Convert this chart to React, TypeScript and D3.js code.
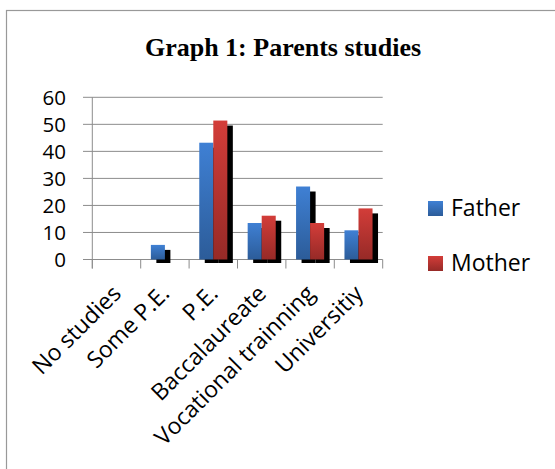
import React from "react";
import * as d3 from "d3";

const categories = ["No studies", "Some P.E.", "P.E.", "Baccalaureate", "Vocational trainning", "Universitiy"];
const seriesNames = ["Father", "Mother"];
const fatherValues = [0, 5.4, 43.2, 13.5, 27.0, 10.8];
const motherValues = [0, 0, 51.4, 16.2, 13.5, 18.9];
const yTicks = [0, 10, 20, 30, 40, 50, 60];
const title = "Graph 1: Parents studies";

const W = 555;
const H = 469;
const plot = { left: 92.3, right: 382.7, top: 97.3, bottom: 259.5 };
const font = "'Open Sans', 'Noto Sans', sans-serif";

export default function App() {
  const x = d3.scaleBand<string>().domain(categories).range([plot.left, plot.right]).paddingInner(0).paddingOuter(0);
  const bw = x.bandwidth();
  const x1 = d3.scaleBand<string>().domain(seriesNames).range([bw * 0.21, bw * 0.79]).padding(0);
  const y = d3.scaleLinear().domain([0, 60]).range([plot.bottom, plot.top]);
  const seriesValues = [fatherValues, motherValues];
  const gradIds = ["gradFather", "gradMother"];

  const bars: { cat: string; s: string; v: number; si: number }[] = [];
  categories.forEach((c, i) => {
    seriesNames.forEach((s, si) => {
      bars.push({ cat: c, s, v: seriesValues[si][i], si });
    });
  });

  const boundaries = categories.map((c) => x(c) as number).concat([plot.right]);

  return (
    <svg width={W} height={H} style={{ position: "absolute", left: 0, top: 0, background: "#fff" }}>
      <defs>
        <linearGradient id="gradFather" x1="0" y1="0" x2="0" y2="1">
          <stop offset="0%" stopColor="#3f80d4" />
          <stop offset="100%" stopColor="#2c5c99" />
        </linearGradient>
        <linearGradient id="gradMother" x1="0" y1="0" x2="0" y2="1">
          <stop offset="0%" stopColor="#d33d39" />
          <stop offset="100%" stopColor="#962a27" />
        </linearGradient>
      </defs>
      <rect x={6.5} y={10.5} width={W + 10} height={H + 10} fill="#fff" stroke="#999" strokeWidth={1.2} />
      <text x={283} y={56} textAnchor="middle" fontFamily="'Liberation Serif', 'Times New Roman', serif" fontWeight="bold" fontSize={26} fill="#000">
        {title}
      </text>
      {yTicks.map((t) => (
        <g key={t}>
          <line x1={83} x2={plot.right} y1={y(t)} y2={y(t)} stroke="#8c8c8c" strokeWidth={1} />
          <text x={66} y={y(t) + 7.5} textAnchor="end" fontFamily={font} fontSize={20.5} fill="#000">
            {t}
          </text>
        </g>
      ))}
      <line x1={plot.left} x2={plot.left} y1={plot.top} y2={plot.bottom + 9} stroke="#8c8c8c" strokeWidth={1} />
      {boundaries.map((b, i) => (
        <line key={i} x1={b} x2={b} y1={plot.bottom} y2={plot.bottom + 9} stroke="#8c8c8c" strokeWidth={1} />
      ))}
      {bars.filter((d) => d.v > 0).map((d, i) => (
        <rect
          key={"sh" + i}
          x={(x(d.cat) as number) + (x1(d.s) as number) + 5.5}
          y={y(d.v) + 5}
          width={x1.bandwidth()}
          height={y(0) - y(d.v) - 1.5}
          fill="#000"
        />
      ))}
      {bars.filter((d) => d.v > 0).map((d, i) => (
        <rect
          key={"b" + i}
          x={(x(d.cat) as number) + (x1(d.s) as number)}
          y={y(d.v)}
          width={x1.bandwidth()}
          height={y(0) - y(d.v)}
          fill={`url(#${gradIds[d.si]})`}
        />
      ))}
      {categories.map((c) => {
        const cx = (x(c) as number) + bw / 2 + 6;
        const cy = 295;
        return (
          <text key={c} x={cx} y={cy} textAnchor="end" transform={`rotate(-45 ${cx} ${cy})`} fontFamily={font} fontSize={23} fill="#000">
            {c}
          </text>
        );
      })}
      {seriesNames.map((s, i) => (
        <g key={s} transform={`translate(428, ${201 + i * 55})`}>
          <rect x={0} y={0} width={15} height={15} fill={`url(#${gradIds[i]})`} />
          <text x={23} y={15} fontFamily={font} fontSize={23} fill="#000">
            {s}
          </text>
        </g>
      ))}
    </svg>
  );
}
